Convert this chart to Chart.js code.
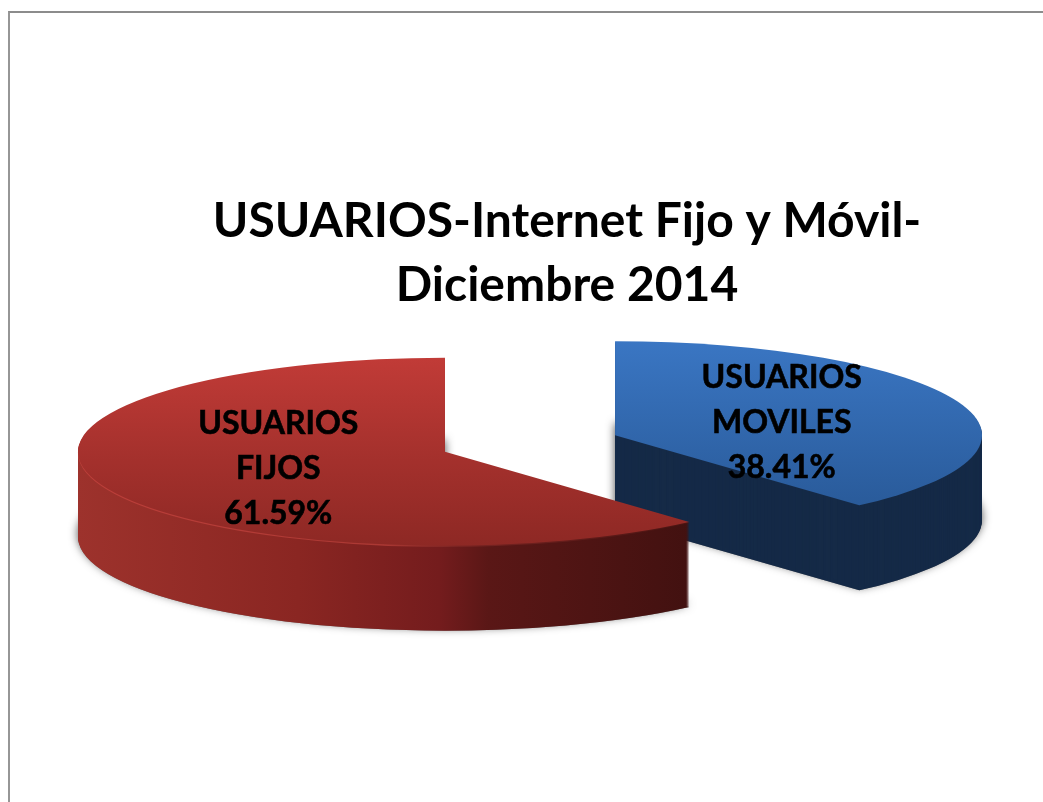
<!DOCTYPE html>
<html><head><meta charset="utf-8">
<style>
html,body{margin:0;padding:0;background:#fff;width:1043px;height:802px;overflow:hidden}
#frame{position:absolute;left:8px;top:11px;right:0;bottom:0;border-left:2px solid #969696;border-top:2px solid #8c8c8c}
canvas{position:absolute;left:0;top:0}
</style>
<script src="https://cdn.jsdelivr.net/npm/chart.js@4"></script>
</head><body>
<div id="frame"></div>
<canvas id="c" width="1043" height="802"></canvas>
<script>
const titleLines = ['USUARIOS-Internet Fijo y Móvil-', 'Diciembre 2014'];
const categories = [['USUARIOS', 'MOVILES'], ['USUARIOS', 'FIJOS']];
const shares = [38.41, 61.59];

const PIE = {cx: 530, cy: 443.5, r: 367, squash: 0.256, depth: 85, explode: 91, labelAt: 0.486, labelDrop: [4, 1]};
const arcBase = {borderWidth: 0, borderColor: 'rgba(0,0,0,0)', borderAlign: 'center', borderJoinStyle: 'round',
  borderDash: [], borderDashOffset: 0, borderRadius: 0, offset: 0, spacing: 0, circular: true, selfJoin: false};

function grad(ctx, x0, y0, x1, y1, stops) {
  const g = ctx.createLinearGradient(x0, y0, x1, y1);
  stops.forEach(s => g.addColorStop(s[0], s[1]));
  return g;
}

const pie3d = {
  id: 'pie3d',
  beforeDatasetDraw(chart, args) {
    const ctx = chart.ctx, els = args.meta.data;
    const midOf = el => (el.startAngle + el.endAngle) / 2;
    // slice apex on screen
    const apexX = el => PIE.cx + Math.cos(midOf(el)) * PIE.explode;
    const apexY = el => PIE.cy + Math.sin(midOf(el)) * PIE.explode * PIE.squash;
    // gradient coordinates live in the arc's own (unsquashed) space
    const srcX = (el, sx) => el.x + (sx - apexX(el));
    const srcY = (el, sy) => el.y + (sy - apexY(el)) / PIE.squash;
    const paint = (el, dy, fill) => {
      ctx.save();
      ctx.translate(apexX(el), apexY(el) + dy);
      ctx.scale(1, PIE.squash);
      ctx.translate(-el.x, -el.y);
      el.options = Object.assign({}, arcBase, {backgroundColor: fill});
      el.draw(ctx);
      ctx.restore();
    };
    const drawSlice = (el, wall, top, rim) => {
      ctx.save();
      ctx.shadowColor = 'rgba(0,0,0,0.7)';
      ctx.shadowBlur = 10;
      ctx.shadowOffsetY = -3;
      paint(el, PIE.depth, '#777');
      ctx.restore();
      for (let d = PIE.depth; d >= 1; d--) paint(el, d, wall);
      if (rim) paint(el, 1.2, rim);
      paint(el, 0, top);
    };
    const xg = (el, a, b, stops) => grad(ctx, srcX(el, a), 0, srcX(el, b), 0, stops);
    const blue = els[0], red = els[1];
    const blueWall = '#152a47';
    const blueTop = grad(ctx, 0, srcY(blue, 341), 0, srcY(blue, 510), [[0, '#3a76c3'], [1, '#295a99']]);
    const redWall = xg(red, 78, 690, [[0, '#9d322c'], [0.36, '#8a2622'], [0.59, '#741c1d'], [0.67, '#5a1716'], [1, '#421110']]);
    const redTop = grad(ctx, 0, srcY(red, 358), 0, srcY(red, 548), [[0, '#c13b37'], [0.55, '#a3302c'], [1, '#8d2824']]);
    const redRim = xg(red, 78, 690, [[0, '#bd3f3a'], [0.5, '#ab3833'], [0.62, '#7a2422'], [1, '#4a1412']]);
    drawSlice(blue, blueWall, blueTop, null);
    drawSlice(red, redWall, redTop, redRim);
    return false;
  },
  afterDraw(chart) {
    const ctx = chart.ctx, els = chart.getDatasetMeta(0).data;
    ctx.save();
    ctx.fillStyle = '#000';
    ctx.strokeStyle = '#000';
    ctx.lineWidth = 0.6;
    ctx.font = 'bold 32px Lato, "Open Sans", sans-serif';
    ctx.textAlign = 'center';
    ctx.textBaseline = 'middle';
    els.forEach((el, i) => {
      const mid = (el.startAngle + el.endAngle) / 2;
      const dist = PIE.explode + PIE.labelAt * PIE.r;
      const x = PIE.cx + Math.cos(mid) * dist;
      const y = PIE.cy + Math.sin(mid) * dist * PIE.squash + PIE.labelDrop[i];
      const lines = categories[i].concat(shares[i].toFixed(2) + '%');
      lines.forEach((t, k) => {
        ctx.fillText(t, x, y + (k - 1) * 45);
        ctx.strokeText(t, x, y + (k - 1) * 45);
      });
    });
    ctx.restore();
  }
};

new Chart(document.getElementById('c'), {
  type: 'pie',
  data: {
    labels: categories.map(c => c.join(' ')),
    datasets: [{data: shares, backgroundColor: ['#3a76c3', '#c13b37'], borderWidth: 0}]
  },
  options: {
    responsive: false,
    animation: false,
    radius: PIE.r,
    layout: {padding: {left: 91}},
    plugins: {
      legend: {display: false},
      tooltip: {enabled: false},
      title: {
        display: true,
        text: titleLines,
        color: '#000',
        align: 'center',
        fullSize: false,
        font: {family: 'Lato, "Open Sans", sans-serif', size: 48, weight: 'bold', lineHeight: 1.333},
        padding: {top: 190, bottom: 10}
      }
    }
  },
  plugins: [pie3d]
});
</script>
</body></html>
